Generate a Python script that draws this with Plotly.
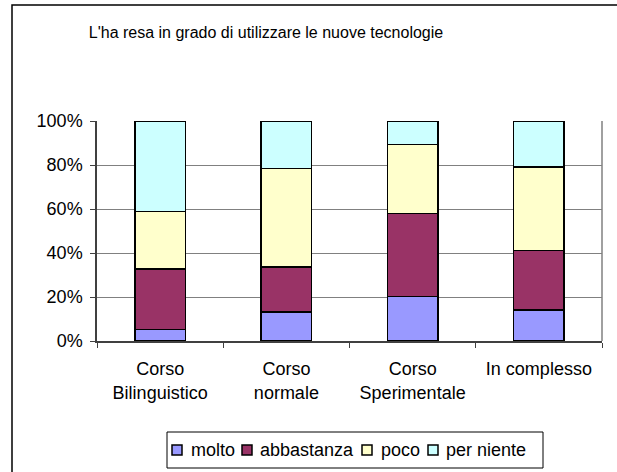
import plotly.graph_objects as go

categories = ["Corso<br>Bilinguistico", "Corso<br>normale", "Corso<br>Sperimentale", "In complesso"]
molto = [5.3, 13.2, 20.3, 14.0]
abbastanza = [27.4, 20.4, 37.6, 27.2]
poco = [26.1, 44.8, 31.5, 37.9]
per_niente = [41.2, 21.6, 10.6, 20.9]
series_names = ["molto", "abbastanza", "poco", "per niente"]
series_colors = ["#9999FF", "#993366", "#FFFFCC", "#CCFFFF"]
tick_vals = [0, 20, 40, 60, 80, 100]
tick_text = ["0%", "20%", "40%", "60%", "80%", "100%"]

FONT = "Liberation Sans, Arial, sans-serif"
FS = 18
W, H = 617, 472
L, R, T, B = 97, 15, 121, 131
pw, ph = W - L - R, H - T - B

def px_x(x):
    return (x - L) / pw

def px_y(y):
    return (H - B - y) / ph

fig = go.Figure()
for name, vals, col in zip(series_names, [molto, abbastanza, poco, per_niente], series_colors):
    fig.add_trace(go.Bar(
        x=categories, y=vals, name=name, showlegend=False,
        marker=dict(color=col, line=dict(color="black", width=1.5)),
    ))

shapes = [
    dict(type="line", xref="paper", yref="paper", x0=1, x1=1, y0=0, y1=1,
         line=dict(color="#808080", width=1.5)),
    dict(type="rect", xref="paper", yref="paper",
         x0=px_x(12), x1=px_x(625), y0=px_y(480), y1=px_y(5),
         line=dict(color="black", width=1.5), fillcolor="rgba(0,0,0,0)", layer="below"),
    dict(type="rect", xref="paper", yref="paper",
         x0=px_x(167), x1=px_x(543), y0=px_y(468), y1=px_y(432),
         line=dict(color="black", width=1), fillcolor="white"),
]
annotations = []
marker_x = [172, 242, 362, 428]
text_x = [189, 258, 379, 444]
for mx, tx, name, col in zip(marker_x, text_x, series_names, series_colors):
    shapes.append(dict(type="rect", xref="paper", yref="paper",
                       x0=px_x(mx), x1=px_x(mx + 10), y0=px_y(455), y1=px_y(445),
                       line=dict(color="black", width=1.5), fillcolor=col))
    annotations.append(dict(text=name, xref="paper", yref="paper",
                            x=px_x(tx), y=px_y(450), xanchor="left", yanchor="middle",
                            showarrow=False,
                            font=dict(family=FONT, size=FS, color="black")))

fig.update_layout(
    width=W, height=H,
    margin=dict(l=L, r=R, t=T, b=B),
    barmode="stack", bargap=0.6,
    paper_bgcolor="white", plot_bgcolor="white",
    font=dict(family=FONT, size=FS, color="black"),
    showlegend=False,
    title=dict(text="L'ha resa in grado di utilizzare le nuove tecnologie",
               x=266 / W, xanchor="center", y=1 - 32 / H, yanchor="middle",
               font=dict(family=FONT, size=16, color="black")),
    xaxis=dict(showline=True, linecolor="#404040", linewidth=1.5,
               ticks="outside", tickson="boundaries", ticklen=5, tickcolor="#404040",
               ticklabelstandoff=11,
               showgrid=False, tickfont=dict(family=FONT, size=FS, color="black")),
    yaxis=dict(range=[0, 100], tickvals=tick_vals, ticktext=tick_text,
               showline=True, linecolor="#404040", linewidth=1.5,
               ticks="outside", ticklen=5, tickcolor="#404040",
               ticklabelstandoff=4,
               showgrid=True, gridcolor="#808080", gridwidth=1,
               zeroline=False, tickfont=dict(family=FONT, size=FS, color="black")),
    shapes=shapes,
    annotations=annotations,
)

fig.write_html("out.html", config={"displayModeBar": False},
               post_script="document.body.style.margin='0';document.body.style.padding='0';")
